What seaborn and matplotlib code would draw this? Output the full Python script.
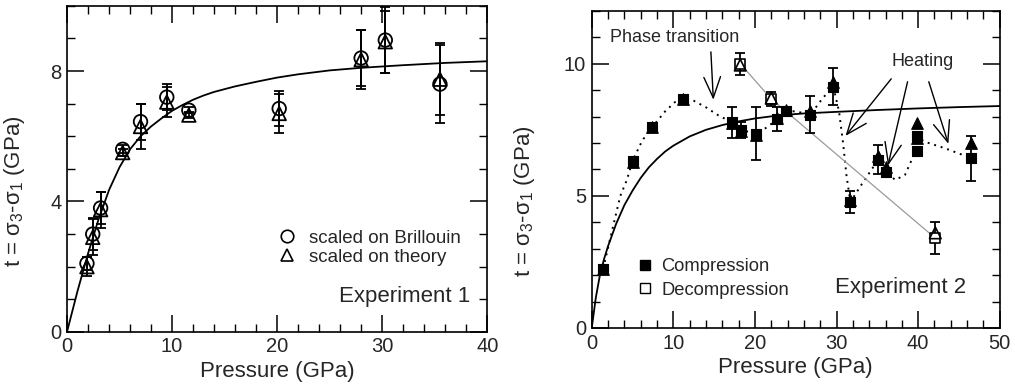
import matplotlib
matplotlib.use("Agg")
import matplotlib.pyplot as plt
import seaborn as sns
from matplotlib.ticker import MultipleLocator
from matplotlib.lines import Line2D

# ---------------- data: Experiment 1 ----------------
p1 = [1.9, 2.45, 3.2, 5.3, 7.0, 9.5, 11.6, 20.2, 28.0, 30.3, 35.5]
t1_brillouin = [2.1, 3.0, 3.8, 5.6, 6.45, 7.2, 6.8, 6.85, 8.4, 8.95, 7.6]
t1_theory = [2.0, 2.9, 3.75, 5.5, 6.3, 7.05, 6.65, 6.7, 8.35, 8.9, 7.75]
err1_brillouin = [0.2, 0.5, 0.5, 0.12, 0.55, 0.4, 0.1, 0.55, 0.85, 1.0, 1.2]
err1_theory = [0.3, 0.55, 0.55, 0.1, 0.7, 0.45, 0.1, 0.6, 0.9, 0.95, 1.1]

fit1_p = [0, 1, 2, 3, 4, 5, 6, 7, 8, 9, 10, 11, 12, 13, 14, 16, 18, 20, 22, 25, 28, 32, 36, 40]
fit1_t = [0, 1.25, 2.4, 3.45, 4.35, 5.05, 5.6, 6.0, 6.3, 6.55, 6.78, 6.96, 7.12, 7.25, 7.36,
          7.53, 7.67, 7.8, 7.9, 8.02, 8.1, 8.18, 8.25, 8.3]

# ---------------- data: Experiment 2 ----------------
comp_p = [1.4, 5.0, 7.4, 11.2, 17.2, 18.3, 20.1, 22.7, 23.8, 26.8, 29.6, 31.7, 35.1, 36.0, 39.8, 39.8, 46.5]
comp_t = [2.25, 6.33, 7.6, 8.67, 7.78, 7.5, 7.35, 7.9, 8.2, 8.07, 9.13, 4.77, 6.36, 5.92, 7.25, 6.68, 6.43]
comp_tri = [2.25, 6.3, 7.6, 8.65, 7.75, 7.45, 7.3, 7.95, 8.25, 8.2, 9.3, 4.85, 6.5, 6.1, 7.75, 7.2, 7.0]
comp_err = [0, 0, 0, 0, 0.58, 0.3, 1.0, 0.45, 0.05, 0.7, 0.7, 0.4, 0.55, 0.15, 0.1, 0.1, 0.85]

dec_p = [18.2, 22.0, 42.1]
dec_t = [10.0, 8.67, 3.4]
dec_tri = [9.95, 8.7, 3.6]
dec_err = [0.42, 0.25, 0.6]

guide_p = [1.4, 2.5, 3.5, 4.3, 5.0, 6.2, 7.4, 9.0, 10.2, 11.2, 12.5, 14.0, 15.5, 17.2, 18.3, 20.1,
           21.5, 22.7, 23.8, 25.0, 26.8, 28.3, 29.6, 30.3, 30.8, 31.2, 31.7, 33.0, 34.3, 35.1, 36.0,
           37.2, 38.4, 39.2, 39.8, 39.8, 40.8, 43.3, 46.5]
guide_t = [2.25, 3.7, 5.0, 5.6, 6.33, 7.1, 7.6, 8.2, 8.55, 8.67, 8.6, 8.35, 8.05, 7.78, 7.5, 7.35,
           7.6, 7.9, 8.2, 8.2, 8.07, 8.7, 9.13, 8.2, 7.0, 5.8, 4.77, 5.4, 6.0, 6.36, 5.92,
           5.6, 5.8, 6.36, 6.68, 7.25, 7.05, 6.8, 6.43]

fit2_p = [0, 0.5, 1, 1.5, 2, 3, 4, 5, 6, 7, 8, 9, 10, 12, 14, 16, 18, 20, 23, 26, 30, 35, 40, 45, 50]
fit2_t = [0, 1.15, 2.0, 2.6, 3.1, 3.95, 4.65, 5.2, 5.68, 6.08, 6.4, 6.68, 6.9, 7.25, 7.5, 7.68,
          7.82, 7.93, 8.05, 8.12, 8.18, 8.25, 8.31, 8.36, 8.4]

# ---------------- style ----------------
sns.set_theme(style="ticks")
plt.rcParams["font.family"] = ["Liberation Sans", "DejaVu Sans"]
plt.rcParams["mathtext.fontset"] = "custom"
plt.rcParams["mathtext.rm"] = "Liberation Sans"
plt.rcParams["mathtext.it"] = "Liberation Sans:italic"
plt.rcParams["mathtext.bf"] = "Liberation Sans:bold"

fig = plt.figure(figsize=(10.15, 3.9), dpi=100)
ax1 = fig.add_axes([0.066, 0.149, 0.414, 0.836])
ax2 = fig.add_axes([0.583, 0.159, 0.402, 0.813])

ylab = r"t = $\mathrm{\sigma}_3$-$\mathrm{\sigma}_1$ (GPa)"


def style_axes(ax, xmax, ymax, xmaj, ymaj):
    ax.set_xlim(0, xmax)
    ax.set_ylim(0, ymax)
    ax.xaxis.set_major_locator(MultipleLocator(xmaj))
    ax.xaxis.set_minor_locator(MultipleLocator(2))
    ax.yaxis.set_major_locator(MultipleLocator(ymaj))
    ax.yaxis.set_minor_locator(MultipleLocator(1))
    ax.tick_params(which="both", direction="in", top=True, right=True,
                   color="black", labelsize=14.5, pad=4)
    ax.tick_params(which="major", length=12, width=1.1)
    ax.tick_params(which="minor", length=6, width=1.0)
    for s in ax.spines.values():
        s.set_linewidth(1.2)
        s.set_color("black")
    ax.set_xlabel("Pressure (GPa)", fontsize=16, labelpad=3)
    ax.set_ylabel(ylab, fontsize=16)


# ---------------- left panel ----------------
ax = ax1
sns.lineplot(x=fit1_p, y=fit1_t, ax=ax, color="black", lw=1.3, sort=False, estimator=None)
ax.errorbar(p1, t1_brillouin, yerr=err1_brillouin, fmt="none", ecolor="black",
            elinewidth=1.3, capsize=3.5, capthick=1.3, zorder=2)
ax.errorbar(p1, t1_theory, yerr=err1_theory, fmt="none", ecolor="black",
            elinewidth=1.3, capsize=3.5, capthick=1.3, zorder=2)
sns.scatterplot(x=p1, y=t1_brillouin, ax=ax, marker="o", s=95, facecolor="none",
                edgecolor="black", linewidth=1.3, zorder=3)
sns.scatterplot(x=p1, y=t1_theory, ax=ax, marker="^", s=95, facecolor="none",
                edgecolor="black", linewidth=1.3, zorder=3)
style_axes(ax, 40, 10, 10, 4)
ax.yaxis.set_label_coords(-0.095, 0.43)
h1 = [Line2D([], [], ls="none", marker="o", ms=9, mfc="none", mec="black", mew=1.2),
      Line2D([], [], ls="none", marker="^", ms=9, mfc="none", mec="black", mew=1.2)]
ax.legend(h1, ["scaled on Brillouin", "scaled on theory"], frameon=False, fontsize=13.5,
          loc="upper left", bbox_to_anchor=(0.501, 0.313), handlelength=1.0,
          handletextpad=0.7, borderpad=0, borderaxespad=0, labelspacing=0.1)
ax.text(38.4, 1.1, "Experiment 1", fontsize=16, ha="right", va="center")

# ---------------- right panel ----------------
ax = ax2
sns.lineplot(x=fit2_p, y=fit2_t, ax=ax, color="black", lw=1.3, sort=False, estimator=None)
sns.lineplot(x=guide_p, y=guide_t, ax=ax, color="black", lw=1.4, sort=False,
             estimator=None, linestyle=(0, (1, 2.5)))
sns.lineplot(x=dec_p, y=dec_t, ax=ax, color="#9a9a9a", lw=0.9, sort=False, estimator=None)
ax.errorbar(comp_p, comp_t, yerr=comp_err, fmt="none", ecolor="black",
            elinewidth=1.3, capsize=3.5, capthick=1.3, zorder=2)
ax.errorbar(dec_p, dec_t, yerr=dec_err, fmt="none", ecolor="black",
            elinewidth=1.3, capsize=3.5, capthick=1.3, zorder=2)
sns.scatterplot(x=comp_p, y=comp_tri, ax=ax, marker="^", s=70, color="black",
                edgecolor="black", linewidth=0.8, zorder=3)
sns.scatterplot(x=comp_p, y=comp_t, ax=ax, marker="s", s=62, color="black",
                edgecolor="black", linewidth=0.8, zorder=4)
sns.scatterplot(x=dec_p, y=dec_t, ax=ax, marker="s", s=62, facecolor="white",
                edgecolor="black", linewidth=1.2, zorder=4)
sns.scatterplot(x=dec_p, y=dec_tri, ax=ax, marker="^", s=70, facecolor="none",
                edgecolor="black", linewidth=1.2, zorder=5)
style_axes(ax, 50, 12, 10, 5)
ax.yaxis.set_label_coords(-0.135, 0.40)

h2 = [Line2D([], [], ls="none", marker="s", ms=7.5, mfc="black", mec="black", mew=1.0),
      Line2D([], [], ls="none", marker="s", ms=7.5, mfc="white", mec="black", mew=1.0)]
ax.legend(h2, ["Compression", "Decompression"], frameon=False, fontsize=13.2,
          loc="upper left", bbox_to_anchor=(0.112, 0.221), handlelength=0.8,
          handletextpad=0.5, borderpad=0, borderaxespad=0, labelspacing=0.38)
ax.text(37.9, 1.55, "Experiment 2", fontsize=16, ha="center", va="center")

arrow_kw = dict(arrowstyle="->,head_length=0.75,head_width=0.3", color="black",
                lw=1.0, mutation_scale=20, shrinkA=0, shrinkB=0)
ax.text(10.1, 10.98, "Phase transition", fontsize=13, ha="center", va="center")
ax.annotate("", xy=(14.9, 8.64), xytext=(14.6, 10.45), arrowprops=arrow_kw)
ax.text(40.6, 10.1, "Heating", fontsize=13, ha="center", va="center")
ax.annotate("", xy=(31.1, 7.27), xytext=(36.7, 9.43), arrowprops=arrow_kw)
ax.annotate("", xy=(36.3, 6.15), xytext=(38.7, 9.32), arrowprops=arrow_kw)
ax.annotate("", xy=(43.7, 6.97), xytext=(41.3, 9.32), arrowprops=arrow_kw)

fig.savefig("out.png", dpi=100)
